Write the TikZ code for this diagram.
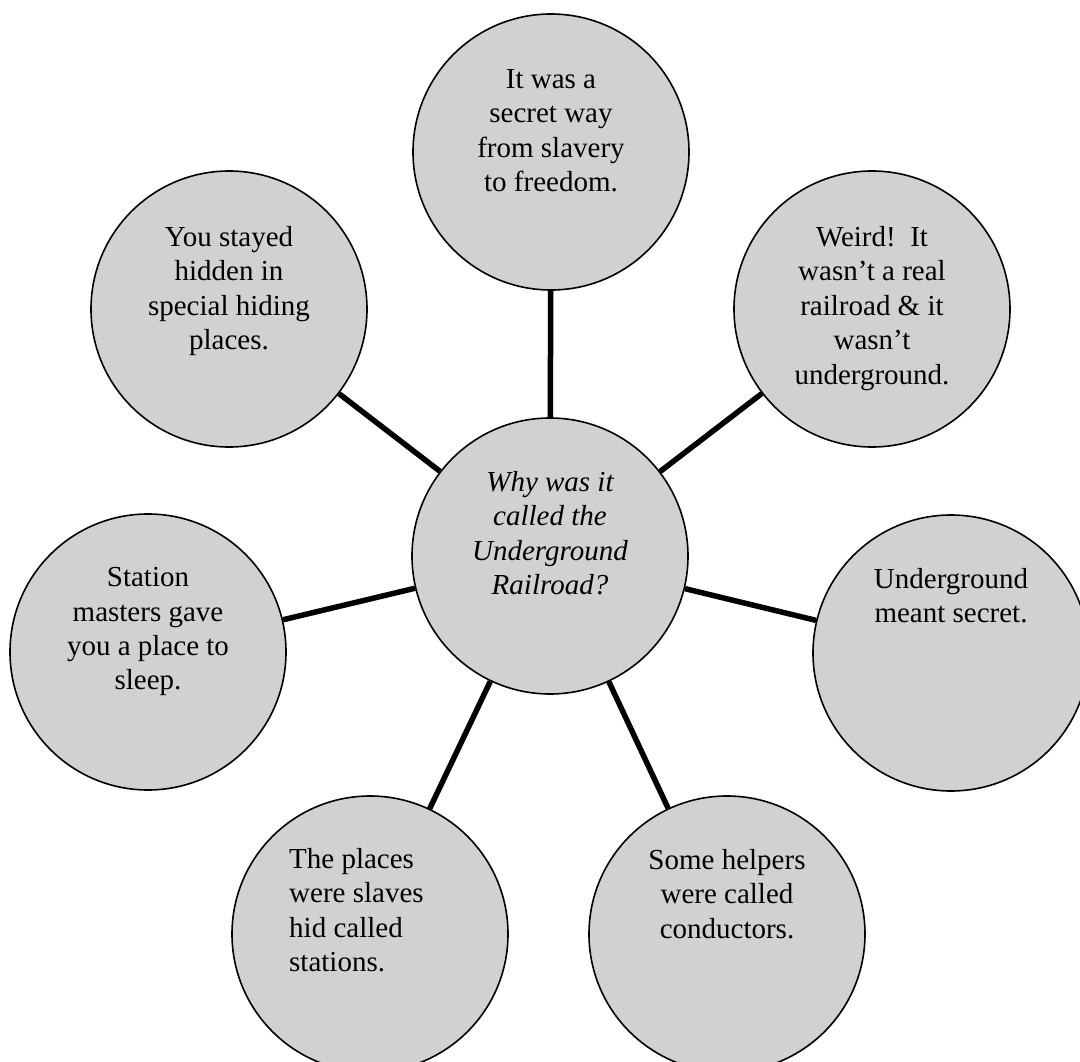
\documentclass[tikz,border=0pt]{standalone}
\usepackage{fontspec}
\setmainfont{Liberation Serif}
\usetikzlibrary{positioning}
\definecolor{bubblegray}{gray}{0.82}

\begin{document}
\begin{tikzpicture}[x=1pt,y=-1pt,
    bubble/.style={circle,draw=black,line width=1.6pt,fill=bubblegray,minimum size=276pt,inner sep=0pt},
    note/.style={inner sep=0pt,align=center,font=\fontsize{29}{34.4}\selectfont},
    link/.style={line width=5.5pt}]
          \useasboundingbox (0,0) rectangle (1080,1062);
          \clip (0,0) rectangle (1080,1062);
          \node [bubble] (hub) at (550,556) {};
          \node [bubble] (north) at (551,152) {};
          \node [bubble] (northeast) at (872,309) {};
          \node [bubble] (east) at (951,653) {};
          \node [bubble] (southeast) at (727,934) {};
          \node [bubble] (southwest) at (370,934) {};
          \node [bubble] (west) at (148,652) {};
          \node [bubble] (northwest) at (229,309) {};
          \draw [link] (hub) -- (north);
          \draw [link] (hub) -- (northeast);
          \draw [link] (hub) -- (east);
          \draw [link] (hub) -- (southeast);
          \draw [link] (hub) -- (southwest);
          \draw [link] (hub) -- (west);
          \draw [link] (hub) -- (northwest);
          \node [note,font=\fontsize{29}{34.4}\selectfont\itshape,below=54pt of hub.north] (hubtxt) {Why was it\\called the\\Underground\\Railroad?};
          \node [note,below=56pt of north.north] (northtxt) {It was a\\secret way\\from slavery\\to freedom.};
          \node [note,below=56pt of northeast.north] (northeasttxt) {Weird!\ \ It\\wasn’t a real\\railroad \& it\\wasn’t\\underground.};
          \node [note,below=54pt of east.north] (easttxt) {Underground\\meant secret.};
          \node [note,below=54pt of southeast.north] (southeasttxt) {Some helpers\\were called\\conductors.};
          \node [note,align=left,anchor=north west] (southwesttxt) at ([shift={(-81pt,-53pt)}]southwest.north) {The places\\were slaves\\hid called\\stations.};
          \node [note,below=54pt of west.north] (westtxt) {Station\\masters gave\\you a place to\\sleep.};
          \node [note,below=56pt of northwest.north] (northwesttxt) {You stayed\\hidden in\\special hiding\\places.};
\end{tikzpicture}
\end{document}
